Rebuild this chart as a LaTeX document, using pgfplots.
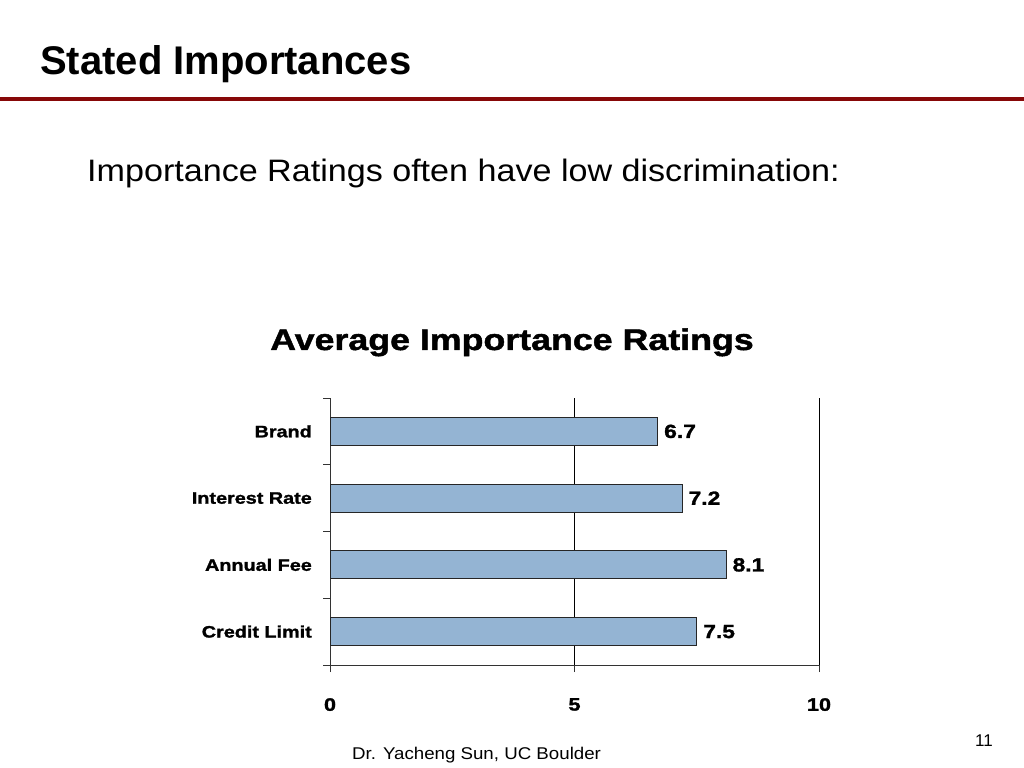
\documentclass[border=0pt]{standalone}
\usepackage{pgfplots}
\pgfplotsset{compat=1.18}
\usepackage{fontspec}
\setmainfont{Liberation Sans}
\newfontfamily\heavy[FakeStretch=1.2,FakeBold=1.5]{Liberation Sans Bold}
\newfontfamily\footfont[FakeStretch=1.1]{Liberation Sans}
\newfontfamily\subfont[FakeStretch=1.1]{Liberation Sans}
\definecolor{barblue}{RGB}{148,180,211}
\definecolor{rulered}{RGB}{135,8,8}

\begin{document}
\begin{tikzpicture}
\useasboundingbox (0,0) rectangle (1024bp,768bp);
\fill[white] (0,0) rectangle (1024bp,768bp);
% slide header
\node[anchor=base west,inner sep=0] at (40bp,693bp) {\fontsize{40bp}{48bp}\selectfont\bfseries Stated Importances};
\draw[rulered,line width=4bp] (0,669bp) -- (1024bp,669bp);
\node[anchor=base west,inner sep=0] at (87bp,586bp) {\fontsize{31bp}{37bp}\subfont Importance Ratings often have low discrimination:};
% chart title
\node[anchor=base,inner sep=0] at (512bp,418bp) {\fontsize{29.8bp}{35bp}\heavy Average Importance Ratings};

\begin{axis}[
  at={(330bp,103bp)},anchor=south west,
  scale only axis,width=489bp,height=267bp,
  xbar,bar width=28bp,
  xmin=0,xmax=10,ymin=-0.5,ymax=3.5,y dir=reverse,
  axis x line*=bottom,axis y line*=left,
  axis line style={black!80,line width=0.9bp},
  xtick={0,5,10},xmajorgrids,grid style={black,line width=0.9bp},
  tick align=outside,major tick length=7bp,
  tick style={black!80,line width=0.9bp},
  ytick={0,1,2,3},
  yticklabels={Brand,Interest Rate,Annual Fee,Credit Limit},
  ytick style={draw=none},
  extra y ticks={-0.5,0.5,1.5,2.5,3.5},extra y tick labels={},
  extra y tick style={ytick style={draw=black!80,line width=0.9bp}},
  yticklabel style={font=\fontsize{16.5bp}{20bp}\heavy,inner sep=0pt},
  yticklabel shift=11bp,
  xticklabel style={font=\fontsize{18bp}{22bp}\heavy,inner sep=0pt},
  xticklabel shift=26bp,
  /pgf/number format/assume math mode=true,
  point meta=x,
  nodes near coords={\pgfmathprintnumber[fixed,precision=1,fixed zerofill]{\pgfplotspointmeta}},
  nodes near coords style={anchor=west,inner sep=0pt,xshift=6bp,font=\fontsize{19bp}{23bp}\heavy,
    /pgf/number format/assume math mode=true},
]
\addplot[fill=barblue,draw=black!85,line width=1.1bp] coordinates {(6.7,0) (7.2,1) (8.1,2) (7.5,3)};
\end{axis}

% footer
\node[anchor=base west,inner sep=0] at (352bp,9bp) {\fontsize{17bp}{20bp}\footfont Dr. Yacheng Sun, UC Boulder};
\node[anchor=base east,inner sep=0] at (993bp,22bp) {\fontsize{17bp}{20bp}\selectfont 11};
\end{tikzpicture}
\end{document}
